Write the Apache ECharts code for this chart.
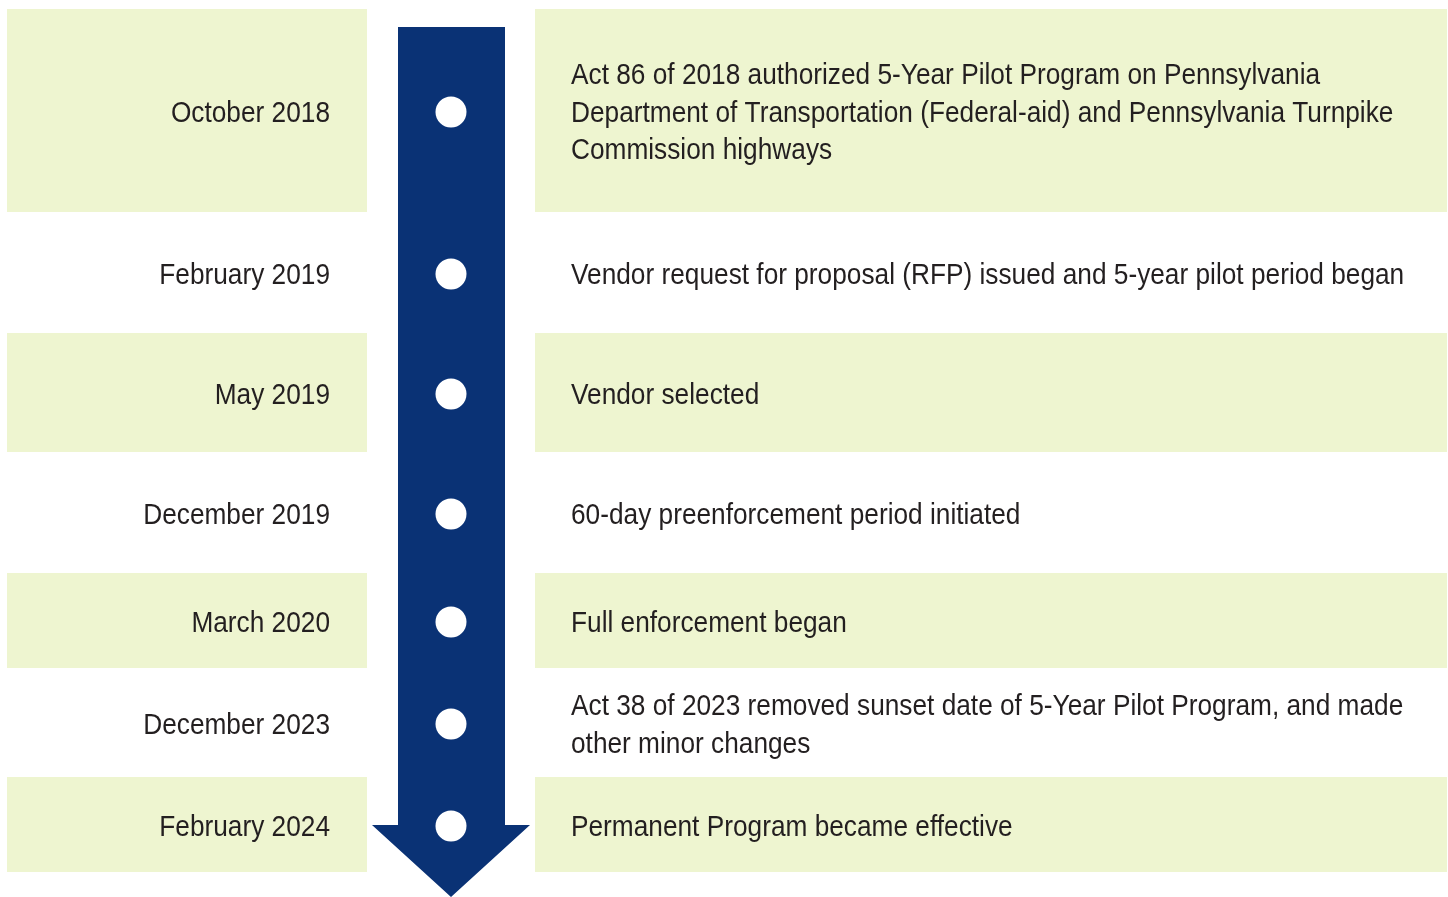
<!DOCTYPE html>
<html>
<head>
<meta charset="utf-8">
<script src="https://cdn.jsdelivr.net/npm/echarts@6/dist/echarts.min.js"></script>
<style>
  html, body { margin: 0; padding: 0; background: #fff; }
  #chart { width: 1448px; height: 897px; }
</style>
</head>
<body>
<div id="chart"></div>
<script>
// timeline rows (y extents in the 0..897 layout axis)
var dates = ['October 2018', 'February 2019', 'May 2019', 'December 2019', 'March 2020', 'December 2023', 'February 2024'];
var events = [
    'Act 86 of 2018 authorized 5-Year Pilot Program on Pennsylvania\nDepartment of Transportation (Federal-aid) and Pennsylvania Turnpike\nCommission highways',
    'Vendor request for proposal (RFP) issued and 5-year pilot period began',
    'Vendor selected',
    '60-day preenforcement period initiated',
    'Full enforcement began',
    'Act 38 of 2023 removed sunset date of 5-Year Pilot Program, and made\nother minor changes',
    'Permanent Program became effective'
];
var rowTop = [9, 212, 333, 452, 573, 668, 777];
var rowBottom = [212, 333, 452, 573, 668, 777, 872];
var shaded = [true, false, true, false, true, false, true];

// no Arial Narrow here, so squeeze Liberation Sans (Arial metrics)
var FONT = '"Liberation Sans", Arial, sans-serif';
var NARROW = 0.875;

var rows = dates.map(function (d, i) {
    return [rowTop[i], rowBottom[i], i];
});
var dots = dates.map(function (d, i) {
    return [451, (rowTop[i] + rowBottom[i]) / 2 + 1.5];
});

echarts.init(document.getElementById('chart')).setOption({
    animation: false,
    grid: { left: 0, right: 0, top: 0, bottom: 0 },
    xAxis: { type: 'value', min: 0, max: 1448, show: false },
    yAxis: { type: 'value', min: 0, max: 897, inverse: true, show: false },
    series: [
        {
            // shaded boxes + labels
            type: 'custom',
            data: rows,
            renderItem: function (params, api) {
                var i = api.value(2);
                var p0 = api.coord([7, api.value(0)]);
                var p1 = api.coord([367, api.value(1)]);
                var q0 = api.coord([535, api.value(0)]);
                var q1 = api.coord([1447, api.value(1)]);
                var mid = (p0[1] + p1[1]) / 2 + 3;
                var children = [];
                if (shaded[i]) {
                    children.push({ type: 'rect', shape: { x: p0[0], y: p0[1], width: p1[0] - p0[0], height: p1[1] - p0[1] }, style: { fill: '#eef5d0' } });
                    children.push({ type: 'rect', shape: { x: q0[0], y: q0[1], width: q1[0] - q0[0], height: q1[1] - q0[1] }, style: { fill: '#eef5d0' } });
                }
                children.push({
                    type: 'text', x: api.coord([330, 0])[0], y: mid, scaleX: NARROW,
                    style: { text: dates[i], font: '30px ' + FONT, fill: '#231f20', align: 'right', verticalAlign: 'middle' }
                });
                children.push({
                    type: 'text', x: api.coord([571, 0])[0], y: mid, scaleX: NARROW,
                    style: { text: events[i], font: '30px ' + FONT, lineHeight: 37.5, fill: '#231f20', align: 'left', verticalAlign: 'middle' }
                });
                return { type: 'group', children: children };
            }
        },
        {
            // arrow
            type: 'custom',
            data: [[27, 825, 897]],
            z: 3,
            renderItem: function (params, api) {
                var a = api.coord([398, api.value(0)]);
                var b = api.coord([505, api.value(1)]);
                var l = api.coord([372, api.value(1)]);
                var r = api.coord([530, api.value(1)]);
                var t = api.coord([451, api.value(2)]);
                return {
                    type: 'polygon',
                    shape: { points: [[a[0], a[1]], [b[0], a[1]], [b[0], b[1]], [r[0], r[1]], [t[0], t[1]], [l[0], l[1]], [a[0], b[1]]] },
                    style: { fill: '#0a3275' }
                };
            }
        },
        {
            type: 'scatter',
            data: dots,
            z: 5,
            symbol: 'circle',
            symbolSize: 31,
            itemStyle: { color: '#ffffff', opacity: 1 },
            silent: true
        }
    ]
});
</script>
</body>
</html>
